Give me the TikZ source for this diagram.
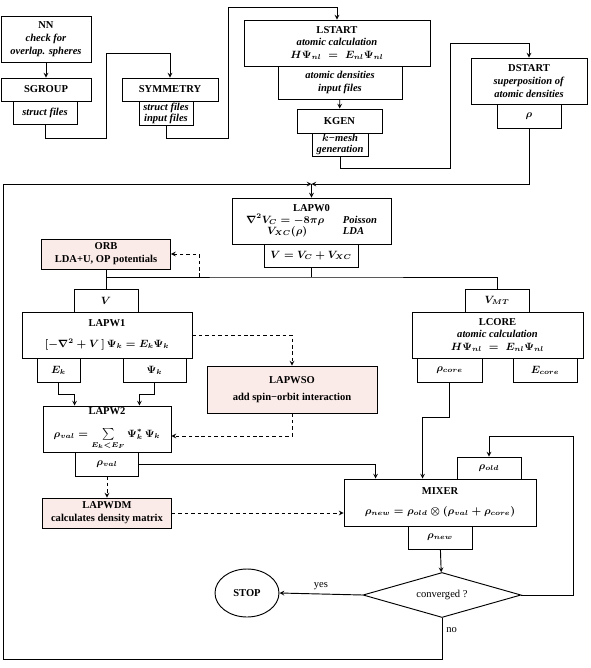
\documentclass[tikz,border=0pt]{standalone}
\usepackage{fontspec}
\setmainfont{Liberation Serif}
\usetikzlibrary{shapes.geometric}
\definecolor{boxpink}{RGB}{251,235,232}

\begin{document}
\begin{tikzpicture}[x=0.03cm, y=-0.03cm, >=stealth, line width=0.8pt,
  every node/.style={font=\fontsize{9}{11}\selectfont\bfseries\boldmath},
  box/.style={draw, rectangle, inner sep=1pt, align=center},
  box_pink/.style={box, fill=boxpink},
  wh/.style 2 args={minimum width=#1*0.03cm, minimum height=#2*0.03cm},
  plain_text/.style={font=\fontsize{9}{11}\selectfont},
  flow/.style={dash pattern=on 3pt off 2.5pt}]

\useasboundingbox (0,0) rectangle (591,668);

% setup programs
\node[box, wh={90}{46}] (nn) at (46,39) {NN\\\textit{check for}\\\textit{overlap. spheres}};
\node[box, wh={90}{23}] (sgroup) at (46,89.5) {SGROUP};
\node[box, wh={64}{23}] (sgroup_out) at (45,112.5) {\textit{struct files}};
\node[box, wh={96}{23}] (symm) at (170,89.5) {SYMMETRY};
\node[box, wh={54}{24}, font=\fontsize{9}{9.5}\selectfont\bfseries] (symm_out) at (166,113) {\textit{struct files}\\\textit{input files}};
\node[box, wh={186}{46}] (lstart) at (337,43) {LSTART\\\textit{atomic calculation}\\$H\Psi_{nl} \;=\; E_{nl}\Psi_{nl}$};
\node[box, wh={124}{33}] (lstart_out) at (340,82.5) {\textit{atomic densities}\\\textit{input files}};
\node[box, wh={85}{24}] (kgen) at (339.5,121) {KGEN};
\node[box, wh={56}{23}, font=\fontsize{9}{9.5}\selectfont\bfseries\boldmath] (kgen_out) at (340,144.5) {\textit{$k$\textminus mesh}\\\textit{generation}};
\node[box, wh={116}{46}] (dstart) at (529,81) {DSTART\\\textit{superposition of}\\\textit{atomic densities}};
\node[box, wh={64}{24}] (dstart_out) at (529,116) {$\rho$};

% scf cycle
\coordinate (join) at (311.5,184);
\node[box, wh={159}{46}] (lapw0) at (311.5,221) {LAPW0\\[1pt]
  \renewcommand{\arraystretch}{0.85}%
  \begin{tabular}{@{}l@{\hspace{16pt}}l@{}}
  $\nabla^2 V_C = -8\pi\rho$ & \textit{Poisson}\\
  \hspace{2em}$V_{XC}(\rho)$ & \textit{LDA}
  \end{tabular}};
\node[box, wh={94}{23}] (lapw0_out) at (311,255.5) {$V = V_C + V_{XC}$};
\coordinate (vsplit) at (311,277);
\coordinate (orbtap) at (199,277);

\node[box_pink, wh={129}{30}] (orb) at (106,254) {ORB\\LDA+U, OP potentials};
\node[box, wh={64}{23}] (v) at (106,300.5) {$V$};
\node[box, wh={170}{46}] (lapw1) at (107,335) {LAPW1\\[7pt]$[-\nabla^2 + V\,]\,\Psi_k = E_k\Psi_k$};
\node[box, wh={43}{24}] (ek) at (58.5,370) {$E_k$};
\node[box, wh={63}{24}] (psik) at (154.5,370) {$\Psi_k$};

\node[box, wh={64}{23}] (vmt) at (497,300.5) {$V_{MT}$};
\node[box, wh={171}{46}] (lcore) at (497.5,335) {LCORE\\\textit{atomic calculation}\\$H\Psi_{nl} \;=\; E_{nl}\Psi_{nl}$};
\node[box, wh={65}{24}] (rhocore) at (449.5,370) {$\rho_{core}$};
\node[box, wh={64}{24}] (ecore) at (545,370) {$E_{core}$};

\node[box_pink, wh={170}{47}] (lapwso) at (292,389.5) {LAPWSO\\[3pt]add spin\textminus orbit interaction};
\node[box, wh={128}{46}] (lapw2) at (107,429) {LAPW2\\[8pt]$\rho_{val} = \sum\limits_{E_k < E_F}\Psi_k^{*}\,\Psi_k$};
\node[box, wh={63}{24}] (rhoval) at (107,464) {$\rho_{val}$};
\node[box_pink, wh={129}{30}] (lapwdm) at (107,513) {LAPWDM\\calculates density matrix};

\node[box, wh={64}{22}] (rhoold) at (489,468) {$\rho_{old}$};
\node[box, wh={192}{47}] (mixer) at (440,502.5) {MIXER\\[6pt]$\rho_{new} = \rho_{old}\otimes(\rho_{val} + \rho_{core})$};
\node[box, wh={64}{23}] (rhonew) at (440,537.5) {$\rho_{new}$};
\node[draw, diamond, aspect=3.5, inner sep=0pt, wh={158}{45}, plain_text] (conv) at (442,595) {converged ?};
\node[draw, ellipse, inner sep=0pt, wh={64}{48}] (stop) at (247,593) {STOP};

% setup connections
\draw[->] (nn) -- (sgroup);
\draw[->] (sgroup_out.south) -- ++(0,14) -| (106,53) -| (symm.north);
\draw[->] (symm_out.south) -- ++(0,13) -| (228,7) -| (lstart.north);
\draw[->] (lstart_out) -- (kgen);
\draw[->] (kgen_out.south) -- ++(0,12) -| (450,43) -| (dstart.north);
\draw[->] (dstart_out.south) |- (join);

% cycle connections
\draw[->] (join) -- (lapw0);
\draw (lapw0_out.south) -- (vsplit);
\draw (v.north |- vsplit) -- (vsplit) -| (vmt.north);
\draw (orb.south) -- (v.north);
\draw[flow,->] (orbtap) |- (orb.east);
\draw[flow,->] (lapw1.east) -| (lapwso.north);
\draw[flow,->] (lapwso.south) |- ([yshift=-0.21cm]lapw2.east);
\draw[->] (ek.south) -- ++(0,12) -| ([xshift=0.96cm]lapw2.north west);
\draw[->] (psik.south) -- ++(0,12) -| ([xshift=-0.96cm]lapw2.north east);
\draw[flow,->] (rhoval) -- (lapwdm);
\draw[->] (rhoval.east) -| ([xshift=0.96cm]mixer.north west);
\draw[->] (rhocore.south) -- ++(0,35) -| ([xshift=2.37cm]mixer.north west);
\draw[flow,->] (lapwdm.east) -- (lapwdm.east -| mixer.west);
\draw[->] (rhonew) -- (conv);
\draw[->] (conv.west) -- node[above, plain_text] {yes} (stop.east);
\draw[->] (conv.east) -- ++(52,0) -- ++(0,-159) -| (rhoold.north);
\draw[->] (conv.south) -- node[pos=0.3, right, plain_text] {no} ++(0,41) -| (3,184) -- (join);

\end{tikzpicture}
\end{document}
